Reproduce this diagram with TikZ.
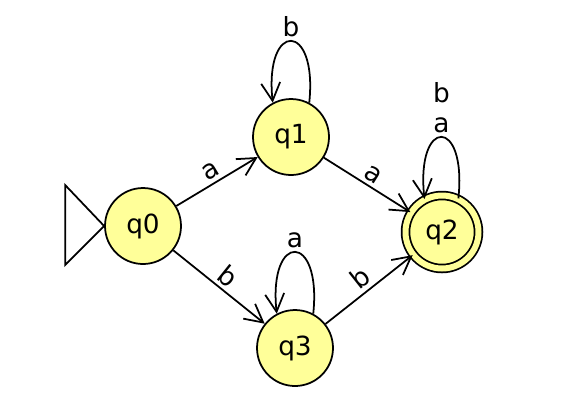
\documentclass[tikz,border=0pt]{standalone}
\usepackage{fontspec}
\setmainfont{DejaVu Sans}
\usetikzlibrary{arrows.meta}
\definecolor{stateyellow}{RGB}{255,255,153}

\begin{document}
\begin{tikzpicture}[x=0.02cm, y=-0.02cm,
    state/.style={circle, draw=black, line width=1pt, fill=stateyellow, minimum size=1.52cm, inner sep=0pt, font=\fontsize{15}{18}\selectfont},
    accepting/.style={state, minimum size=1.46cm, double=stateyellow, double distance=0.12cm},
    trans/.style={line width=1pt, black, -{Straight Barb[length=0.36cm, width=0.38cm]}},
    lbl/.style={font=\fontsize{15}{17}\selectfont, inner sep=2pt, align=center}
]
    \useasboundingbox (0,0) rectangle (570,414);

    % --- States ---
    \node[state]     (q0) at (143,226) {q0};
    \node[state]     (q1) at (291,137) {q1};
    \node[accepting] (q2) at (442,232) {q2};
    \node[state]     (q3) at (295,348) {q3};

    % --- Initial marker ---
    \draw[line width=1pt] (q0.west) -- ++(-39,-41) -- ++(0,80) -- cycle;

    % --- Transitions ---
    \draw[trans] (q0) -- node[lbl, sloped, above] {a} (q1);
    \draw[trans] (q0) -- node[lbl, sloped, above] {b} (q3);
    \draw[trans] (q1) -- node[lbl, sloped, above] {a} (q2);
    \draw[trans] (q3) -- node[lbl, sloped, above] {b} (q2);

    % --- Loops ---
    \draw[trans] (q1.62) .. controls +(84:1.65cm) and +(96:1.65cm) .. node[lbl, pos=0.5, above] {b} (q1.118);
    \draw[trans] (q3.62) .. controls +(84:1.65cm) and +(96:1.65cm) .. node[lbl, pos=0.5, above] {a} (q3.118);
    \draw[trans] (q2.64) .. controls +(84:1.65cm) and +(96:1.65cm) .. node[lbl, pos=0.5, above] {b\\a} (q2.118);

\end{tikzpicture}
\end{document}
